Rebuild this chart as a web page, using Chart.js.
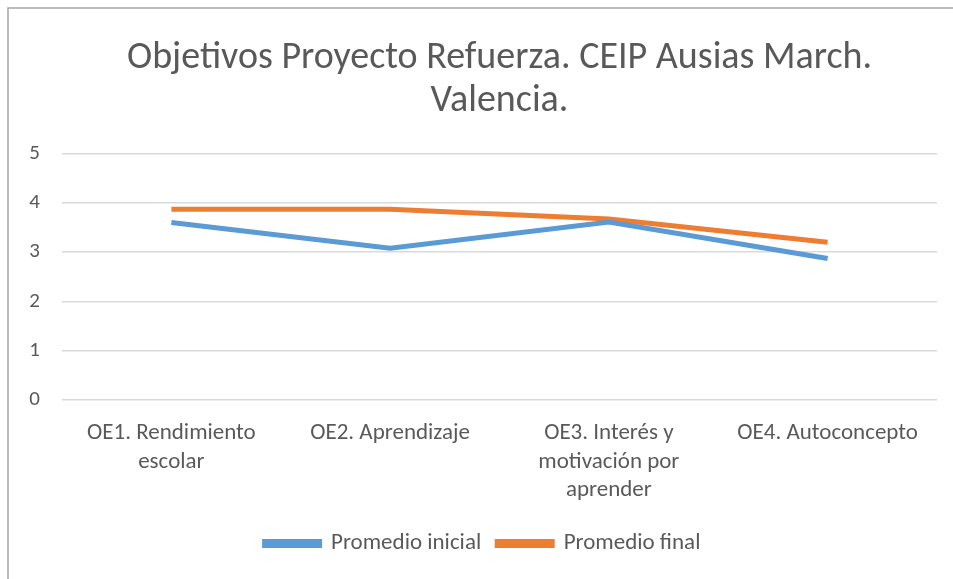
<!DOCTYPE html>
<html>
<head>
<meta charset="utf-8">
<script src="https://cdn.jsdelivr.net/npm/chart.js@4"></script>
<style>
  body { margin: 0; background: #fff; }
  #wrap { position: absolute; left: 0; top: 0; width: 953px; height: 579px; }
</style>
</head>
<body>
<div id="wrap"><canvas id="myChart" width="953" height="579"></canvas></div>
<script>
var categories = [
    ['OE1. Rendimiento', 'escolar'],
    'OE2. Aprendizaje',
    ['OE3. Interés y', 'motivación por', 'aprender'],
    'OE4. Autoconcepto'
];
var promedioInicial = [3.6, 3.08, 3.61, 2.87];
var promedioFinal = [3.87, 3.87, 3.67, 3.2];
var yTicks = [0, 1, 2, 3, 4, 5];

var fontFamily = "Carlito, 'Liberation Sans Narrow', 'Open Sans', sans-serif";
var textColor = '#595959';

// thin gray frame on left and top, like the original screenshot
var framePlugin = {
    id: 'frame',
    beforeDraw: function(chart){
        var c = chart.ctx;
        c.save();
        c.strokeStyle = '#a6a6a6';
        c.lineWidth = 1.5;
        c.beginPath();
        c.moveTo(8, 579);
        c.lineTo(8, 8);
        c.lineTo(953, 8);
        c.stroke();
        c.restore();
    }
};

var ctx = document.getElementById('myChart').getContext('2d');
var myLineChart = new Chart(ctx, {
    type: 'line',
    data: {
        labels: categories,
        datasets: [{
            label: 'Promedio inicial',
            data: promedioInicial,
            borderColor: '#5B9BD5',
            backgroundColor: '#5B9BD5',
            borderWidth: 5,
            pointRadius: 0,
            tension: 0
        }, {
            label: 'Promedio final',
            data: promedioFinal,
            borderColor: '#ED7D31',
            backgroundColor: '#ED7D31',
            borderWidth: 5,
            pointRadius: 0,
            tension: 0
        }]
    },
    options: {
        responsive: false,
        animation: false,
        layout: { padding: { left: 28, right: 16, top: 0, bottom: 14 } },
        scales: {
            x: {
                offset: true,
                grid: { display: false },
                border: { display: false },
                ticks: {
                    color: textColor,
                    font: { family: fontFamily, size: 23, lineHeight: 1.25 },
                    maxRotation: 0,
                    autoSkip: false,
                    padding: 11
                }
            },
            y: {
                min: 0,
                max: 5,
                afterBuildTicks: function(scale){
                    scale.ticks = yTicks.map(function(v){ return { value: v }; });
                },
                afterFit: function(scale){
                    scale.width = 34;
                },
                grid: { color: '#d9d9d9', lineWidth: 1.5, drawTicks: false },
                border: { display: false },
                ticks: {
                    color: textColor,
                    font: { family: fontFamily, size: 21 },
                    padding: 22
                }
            }
        },
        plugins: {
            title: {
                display: true,
                fullSize: false,
                text: ['Objetivos Proyecto Refuerza. CEIP Ausias March.', 'Valencia.'],
                color: textColor,
                font: { family: fontFamily, size: 38, weight: 'normal', lineHeight: 1.14 },
                padding: { top: 37, bottom: 30 }
            },
            legend: {
                position: 'bottom',
                labels: {
                    color: textColor,
                    font: { family: fontFamily, size: 23 },
                    boxWidth: 55,
                    boxHeight: 4,
                    padding: 16
                }
            },
            tooltip: { enabled: false }
        }
    },
    plugins: [framePlugin]
});
</script>
</body>
</html>
